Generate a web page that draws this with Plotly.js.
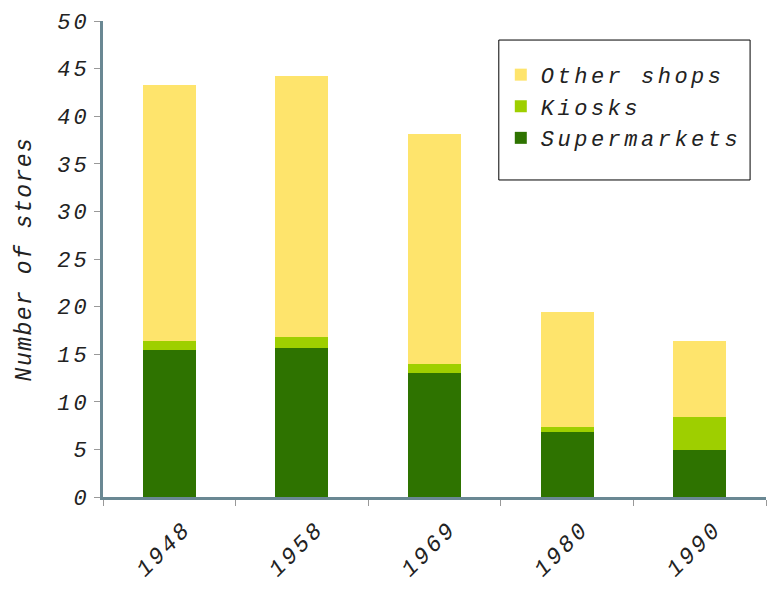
<!DOCTYPE html>
<html>
<head>
<meta charset="utf-8">
<script src="https://cdn.plot.ly/plotly-3.0.1.min.js"></script>
<style>
html,body{margin:0;padding:0;background:#fff;}
#chart{width:768px;height:591px;}
#chart .xtick text, #chart .ytick text{letter-spacing:3px;}
#chart .ytitle{letter-spacing:1.5px;}
#chart .legendtext{letter-spacing:3.5px;}
#chart .legend .scrollbox{clip-path:none !important;}
</style>
</head>
<body>
<div id="chart"></div>
<script>
const years = ["1948", "1958", "1969", "1980", "1990"];
const supermarkets = [15.4, 15.7, 13.0, 6.8, 4.9];
const kiosks = [1.0, 1.1, 1.0, 0.6, 3.5];
const otherShops = [26.9, 27.4, 24.1, 12.0, 8.0];
const yTicks = [0, 5, 10, 15, 20, 25, 30, 35, 40, 45, 50];

const font = {family: "Liberation Mono, DejaVu Sans Mono, monospace", color: "#222"};

const traces = [
  {type: "bar", name: "Supermarkets", x: years, y: supermarkets, marker: {color: "#2e7300"}, width: 0.4},
  {type: "bar", name: "Kiosks", x: years, y: kiosks, marker: {color: "#9ecf00"}, width: 0.4},
  {type: "bar", name: "Other shops", x: years, y: otherShops, marker: {color: "#fee46c"}, width: 0.4}
];

const layout = {
  width: 768, height: 591,
  margin: {l: 103, r: 2, t: 21, b: 94},
  barmode: "stack",
  paper_bgcolor: "#fff", plot_bgcolor: "#fff",
  showlegend: true,
  font: Object.assign({size: 22, style: "italic"}, font),
  legend: {
    x: 0.6, y: 0.931, xanchor: "left", yanchor: "top",
    traceorder: "reversed",
    borderwidth: 0, bgcolor: "rgba(0,0,0,0)",
    font: Object.assign({size: 22, style: "italic"}, font),
    itemwidth: 30
  },
  shapes: [{
    type: "rect", xref: "paper", yref: "paper",
    x0: 0.597, x1: 0.976, y0: 0.666, y1: 0.960,
    line: {color: "#000", width: 1}, fillcolor: "#fff", layer: "below"
  }],
  xaxis: {
    type: "category",
    showline: true, linecolor: "#6a8893", linewidth: 3,
    ticks: "outside", tickson: "boundaries", ticklen: 6, tickcolor: "#999",
    tickangle: -45,
    ticklabelshift: 15, ticklabelstandoff: 6,
    tickfont: Object.assign({size: 23, style: "italic"}, font),
    showgrid: false, zeroline: false
  },
  yaxis: {
    range: [0, 50],
    tickvals: yTicks,
    showline: true, linecolor: "#6a8893", linewidth: 3,
    ticks: "outside", ticklen: 6, tickcolor: "#999",
    tickfont: Object.assign({size: 22, style: "italic"}, font),
    showgrid: false, zeroline: false,
    title: {text: "Number of stores", font: Object.assign({size: 23, style: "italic"}, font), standoff: 26}
  }
};

Plotly.newPlot("chart", traces, layout, {displayModeBar: false, staticPlot: true});
</script>
</body>
</html>
